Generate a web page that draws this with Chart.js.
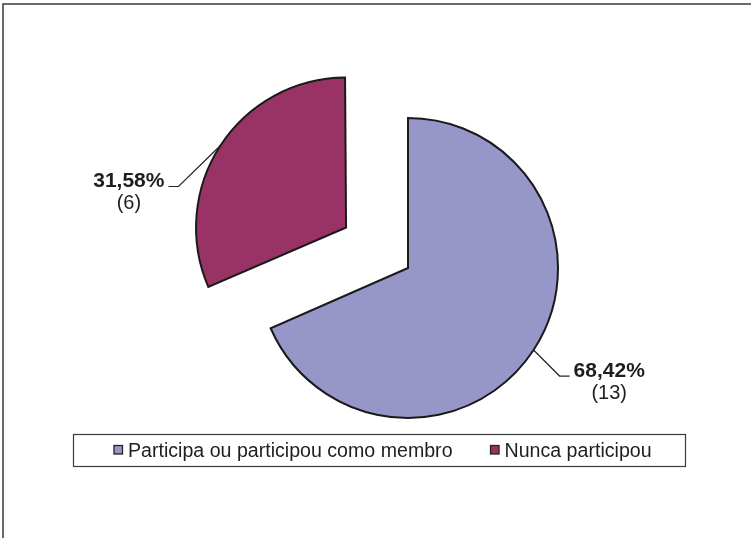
<!DOCTYPE html>
<html>
<head>
<meta charset="utf-8">
<script src="https://cdn.jsdelivr.net/npm/chart.js@4/dist/chart.umd.min.js"></script>
<style>
  html, body { margin: 0; padding: 0; background: #ffffff; }
  #wrap { position: relative; width: 751px; height: 538px; }
  canvas { display: block; }
</style>
</head>
<body>
<div id="wrap"><canvas id="c" width="751" height="538"></canvas></div>
<script>
// ---- data ----
const categories = ['Participa ou participou como membro', 'Nunca participou'];
const counts = [13, 6];
const sliceColors = ['#9696c8', '#993366'];

// ---- styles ----
const PIE_RADIUS = 150;
const EXPLODE = [0, 74];          // pixels the slice is pulled out
const TEXT_COLOR = '#1e1e1e';
const FONT = '"Liberation Sans", Arial, Helvetica, sans-serif';
// leader elbow offsets relative to the arc edge point, and arm length
const leaderStyle = [
  { dx: 26, dy: 26, arm: 10 },
  { dx: -42, dy: 41, arm: -10 }
];

const total = counts.reduce((a, b) => a + b, 0);
const fmtPct = v => (v / total * 100).toFixed(2).replace('.', ',') + '%';

// keep exploded slice at the same radius as the others
const radiusFix = {
  id: 'radiusFix',
  afterDatasetsUpdate(chart) {
    const meta = chart.getDatasetMeta(0);
    meta.data.forEach(arc => {
      const off = (arc.options.offset || 0) / 4;
      const circ = arc.endAngle - arc.startAngle;
      const fix = 1 - Math.sin(Math.min(Math.PI, circ));
      arc.outerRadius = PIE_RADIUS - off * fix;
    });
  }
};

const frame = {
  id: 'frame',
  beforeDraw(chart) {
    const ctx = chart.ctx;
    ctx.save();
    ctx.strokeStyle = '#3a3a3a';
    ctx.lineWidth = 1.5;
    ctx.beginPath();
    ctx.moveTo(3, 545);
    ctx.lineTo(3, 4);
    ctx.lineTo(760, 4);
    ctx.stroke();
    ctx.restore();
  }
};

const pieLabels = {
  id: 'pieLabels',
  afterDraw(chart) {
    const ctx = chart.ctx;
    const meta = chart.getDatasetMeta(0);
    ctx.save();
    meta.data.forEach((arc, i) => {
      const mid = (arc.startAngle + arc.endAngle) / 2;
      const off = (arc.options.offset || 0) / 4;
      const cx = arc.x + Math.cos(mid) * off;
      const cy = arc.y + Math.sin(mid) * off;
      const sx = cx + Math.cos(mid) * PIE_RADIUS;
      const sy = cy + Math.sin(mid) * PIE_RADIUS;
      const st = leaderStyle[i];
      const ex = sx + st.dx, ey = sy + st.dy;
      const ax = ex + st.arm;
      ctx.strokeStyle = '#222';
      ctx.lineWidth = 1.2;
      ctx.beginPath();
      ctx.moveTo(sx, sy);
      ctx.lineTo(ex, ey);
      ctx.lineTo(ax, ey);
      ctx.stroke();

      const pct = fmtPct(counts[i]);
      ctx.fillStyle = TEXT_COLOR;
      ctx.font = 'bold 21px ' + FONT;
      ctx.textBaseline = 'alphabetic';
      const w = ctx.measureText(pct).width;
      let left;
      if (st.arm > 0) left = ax + 4; else left = ax - 4 - w;
      ctx.textAlign = 'left';
      ctx.fillText(pct, left, ey + 1);
      ctx.font = '20px ' + FONT;
      ctx.textAlign = 'center';
      ctx.fillText('(' + counts[i] + ')', left + w / 2, ey + 23);
    });
    ctx.restore();
  }
};

const boxLegend = {
  id: 'boxLegend',
  afterDraw(chart) {
    const ctx = chart.ctx;
    const bx = 73.5, by = 434.5, bw = 612, bh = 32;
    ctx.save();
    ctx.strokeStyle = '#3a3a3a';
    ctx.lineWidth = 1.2;
    ctx.strokeRect(bx, by, bw, bh);
    ctx.font = '19.6px ' + FONT;
    ctx.textBaseline = 'alphabetic';
    ctx.textAlign = 'left';
    let x = 114;
    const labels = chart.data.labels;
    const colors = chart.data.datasets[0].backgroundColor;
    labels.forEach((lab, i) => {
      ctx.fillStyle = colors[i];
      ctx.fillRect(x, 445.5, 8.5, 8.5);
      ctx.strokeStyle = '#222';
      ctx.lineWidth = 1.3;
      ctx.strokeRect(x, 445.5, 8.5, 8.5);
      ctx.fillStyle = TEXT_COLOR;
      ctx.fillText(lab, x + 14, 457);
      x += 14 + ctx.measureText(lab).width + 38;
    });
    ctx.restore();
  }
};

new Chart(document.getElementById('c'), {
  type: 'pie',
  data: {
    labels: categories,
    datasets: [{
      data: counts,
      backgroundColor: sliceColors,
      borderColor: '#1a1a1a',
      borderWidth: 2,
      borderJoinStyle: 'miter',
      offset: EXPLODE.map(v => v * 4),
      radius: PIE_RADIUS
    }]
  },
  options: {
    responsive: false,
    animation: false,
    events: [],
    layout: { padding: { left: 65, right: 0, top: 0, bottom: 2 } },
    plugins: {
      legend: { display: false },
      tooltip: { enabled: false },
      title: { display: false }
    }
  },
  plugins: [radiusFix, frame, pieLabels, boxLegend]
});
</script>
</body>
</html>
